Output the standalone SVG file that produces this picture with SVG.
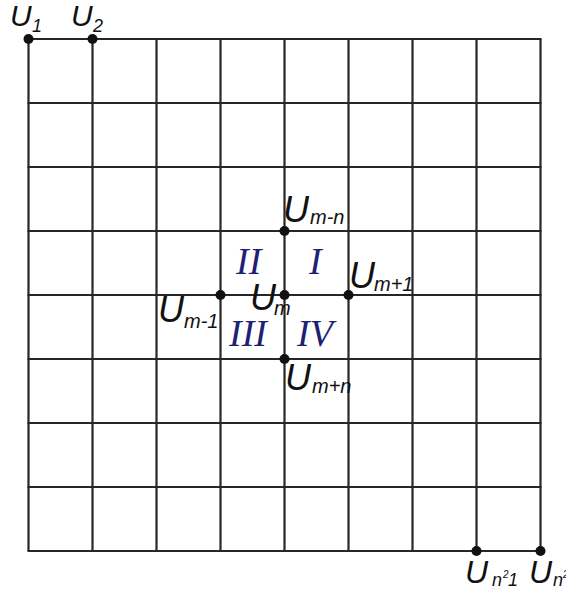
<svg xmlns="http://www.w3.org/2000/svg" width="566" height="598" viewBox="0 0 566 598">
<style>
.grid line{stroke:#262626;stroke-width:2.2}
.dot{fill:#111}
.u{font-family:"Liberation Sans",Arial,sans-serif;font-style:italic;fill:#111}
.u34{font-size:36px}
.u30{font-size:32px}
.u28{font-size:30px}
.sub{font-size:20px}
.sub2{font-size:18px}
.sup{font-size:10px}
.rn{font-family:"Liberation Serif","Times New Roman",serif;font-style:italic;font-size:38px;fill:#1f1f73}
</style>
<rect width="566" height="598" fill="#fff"/>
<g id="connectors" class="grid">
<line x1="28.5" y1="39" x2="28.5" y2="551"/>
<line x1="92.5" y1="39" x2="92.5" y2="551"/>
<line x1="156.5" y1="39" x2="156.5" y2="551"/>
<line x1="220.5" y1="39" x2="220.5" y2="551"/>
<line x1="284.5" y1="39" x2="284.5" y2="551"/>
<line x1="348.5" y1="39" x2="348.5" y2="551"/>
<line x1="412.5" y1="39" x2="412.5" y2="551"/>
<line x1="476.5" y1="39" x2="476.5" y2="551"/>
<line x1="540.5" y1="39" x2="540.5" y2="551"/>
<line x1="27.5" y1="39" x2="541.5" y2="39"/>
<line x1="27.5" y1="103" x2="541.5" y2="103"/>
<line x1="27.5" y1="167" x2="541.5" y2="167"/>
<line x1="27.5" y1="231" x2="541.5" y2="231"/>
<line x1="27.5" y1="295" x2="541.5" y2="295"/>
<line x1="27.5" y1="359" x2="541.5" y2="359"/>
<line x1="27.5" y1="423" x2="541.5" y2="423"/>
<line x1="27.5" y1="487" x2="541.5" y2="487"/>
<line x1="27.5" y1="551" x2="541.5" y2="551"/>
</g>
<g id="n-u1"><circle class="dot" cx="28.5" cy="39" r="5"/><text class="u u28" x="10" y="26">U<tspan class="sub2" x="32" y="32">1</tspan></text></g>
<g id="n-u2"><circle class="dot" cx="92.5" cy="39" r="5"/><text class="u u28" x="71" y="26">U<tspan class="sub2" x="93" y="32">2</tspan></text></g>
<g id="n-umn"><circle class="dot" cx="284.5" cy="231" r="5"/><text class="u u34" x="283" y="222">U<tspan class="sub" x="310" y="224">m-n</tspan></text></g>
<g id="n-um1p"><circle class="dot" cx="348.5" cy="295" r="5"/><text class="u u34" x="349" y="288">U<tspan class="sub" x="374" y="291">m+1</tspan></text></g>
<g id="n-um1m"><circle class="dot" cx="220.5" cy="295" r="5"/><text class="u u34" x="158" y="322">U<tspan class="sub" x="184" y="328">m-1</tspan></text></g>
<g id="n-um"><circle class="dot" cx="284.5" cy="295" r="5"/><text class="u u34" x="250" y="310">U<tspan class="sub" x="274" y="315">m</tspan></text></g>
<g id="n-umpn"><circle class="dot" cx="284.5" cy="359" r="5"/><text class="u u34" x="285" y="390">U<tspan class="sub" x="312" y="393">m+n</tspan></text></g>
<g id="n-un21"><circle class="dot" cx="476.5" cy="551" r="5"/><text class="u u30" x="465" y="583">U<tspan class="sub2" x="492" y="586">n</tspan><tspan class="sup" x="503" y="578">2</tspan><tspan class="sub2" x="508" y="586">1</tspan></text></g>
<g id="n-un2"><circle class="dot" cx="540.5" cy="551" r="5"/><text class="u u30" x="529" y="583">U<tspan class="sub2" x="553" y="586">n</tspan><tspan class="sup" x="563" y="578">2</tspan></text></g>
<g id="regions">
<text class="rn" x="236" y="274">II</text>
<text class="rn" x="309" y="274">I</text>
<text class="rn" x="229" y="346">III</text>
<text class="rn" x="297" y="346">IV</text>
</g>
</svg>
